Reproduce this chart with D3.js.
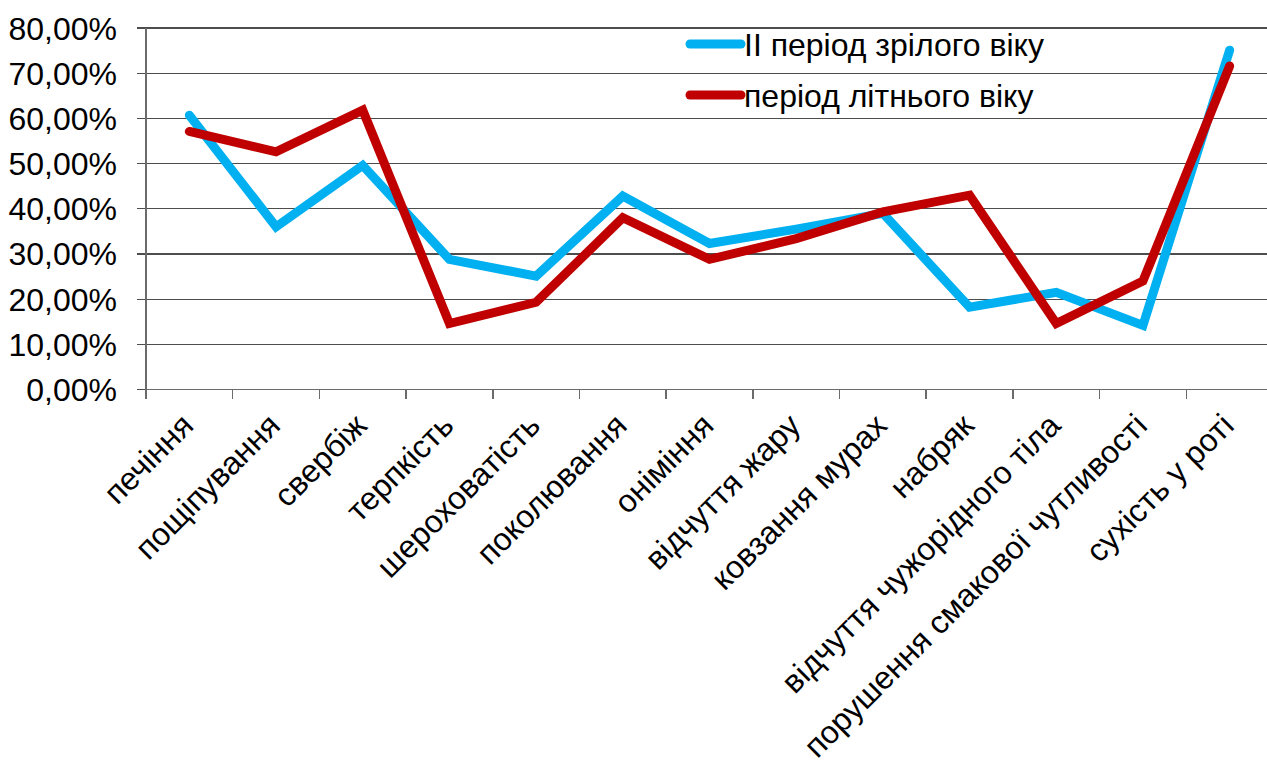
<!DOCTYPE html>
<head>
  <meta charset="utf-8">
  <script src="https://d3js.org/d3.v7.min.js"></script>
  <style>
    body { margin: 0; background: #fff; }
    text {
      font-family: 'Liberation Sans', Arial, sans-serif;
      font-size: 32px;
      fill: #000;
    }
    .grid line { stroke: #4d4d4d; stroke-width: 1.2px; shape-rendering: crispEdges; }
    .axis path, .axis line { stroke: #6b6b6b; stroke-width: 1.5px; shape-rendering: crispEdges; }
    .line { fill: none; stroke-width: 9px; stroke-linecap: round; stroke-linejoin: miter; }
  </style>
</head>
<body>
  <script>
    var categories = ["печіння", "пощіпування", "свербіж", "терпкість", "шероховатість",
      "поколювання", "оніміння", "відчуття жару", "ковзання мурах", "набряк",
      "відчуття чужорідного тіла", "порушення смакової чутливості", "сухість у роті"];

    var seriesNames = ["ІІ період зрілого віку", "період літнього віку"];

    var mature = [0.607, 0.360, 0.496, 0.288, 0.251, 0.428, 0.323, 0.355, 0.390, 0.182, 0.215, 0.142, 0.751];
    var elderly = [0.571, 0.526, 0.618, 0.146, 0.193, 0.380, 0.288, 0.334, 0.393, 0.430, 0.146, 0.240, 0.716];

    var yTicks = [0, 0.1, 0.2, 0.3, 0.4, 0.5, 0.6, 0.7, 0.8];

    var colors = ["#00b0f0", "#c00000"];

    var margin = { top: 28, right: 0, bottom: 371, left: 146 };
    var width = 1127;
    var height = 361.5;

    var svg = d3.select("body").append("svg")
        .attr("width", 1267)
        .attr("height", 760)
      .append("g")
        .attr("transform", "translate(" + margin.left + "," + margin.top + ")");

    var x = d3.scaleBand()
        .domain(categories)
        .range([0, width]);

    var y = d3.scaleLinear()
        .domain([0, 0.8])
        .range([height, 0]);

    // gridlines with outward ticks on the left
    svg.append("g")
        .attr("class", "grid")
        .selectAll("line")
        .data(yTicks)
      .enter().append("line")
        .attr("x1", -9)
        .attr("x2", width)
        .attr("y1", function(d) { return y(d); })
        .attr("y2", function(d) { return y(d); });

    var fmt = function(d) { return d3.format(".2f")(d * 100).replace(".", ",") + "%"; };

    svg.append("g")
        .selectAll("text")
        .data(yTicks)
      .enter().append("text")
        .attr("x", -29)
        .attr("y", function(d) { return y(d); })
        .attr("dy", "0.36em")
        .attr("text-anchor", "end")
        .text(fmt);

    // y axis line
    svg.append("g")
        .attr("class", "axis")
        .append("line")
        .attr("x1", 0).attr("x2", 0)
        .attr("y1", 0).attr("y2", height + 9);

    // x axis ticks at band boundaries
    var xAxis = svg.append("g")
        .attr("class", "axis")
        .attr("transform", "translate(0," + height + ")");

    xAxis.append("line")
        .attr("x1", 0).attr("x2", width)
        .attr("y1", 0).attr("y2", 0);

    xAxis.selectAll(".tick")
        .data(categories)
      .enter().append("line")
        .attr("x1", function(d) { return x(d) + x.bandwidth(); })
        .attr("x2", function(d) { return x(d) + x.bandwidth(); })
        .attr("y1", 0).attr("y2", 9);

    xAxis.selectAll(".lbl")
        .data(categories)
      .enter().append("text")
        .attr("text-anchor", "end")
        .attr("transform", function(d) {
          return "translate(" + (x(d) + x.bandwidth() / 2 + 6) + ",38) rotate(-45)";
        })
        .text(function(d) { return d; });

    var line = d3.line()
        .x(function(d, i) { return x(categories[i]) + x.bandwidth() / 2; })
        .y(function(d) { return y(d); });

    [mature, elderly].forEach(function(s, i) {
      svg.append("path")
          .datum(s)
          .attr("class", "line")
          .attr("stroke", colors[i])
          .attr("d", line);
    });

    // legend
    var legend = svg.selectAll(".legend")
        .data(seriesNames)
      .enter().append("g")
        .attr("transform", function(d, i) { return "translate(540," + (16 + i * 51) + ")"; });

    legend.append("line")
        .attr("x1", 4).attr("x2", 55)
        .attr("stroke", function(d, i) { return colors[i]; })
        .attr("stroke-width", 9)
        .attr("stroke-linecap", "round");

    legend.append("text")
        .attr("x", 58)
        .attr("dy", "0.36em")
        .text(function(d) { return d; });
  </script>
</body>
